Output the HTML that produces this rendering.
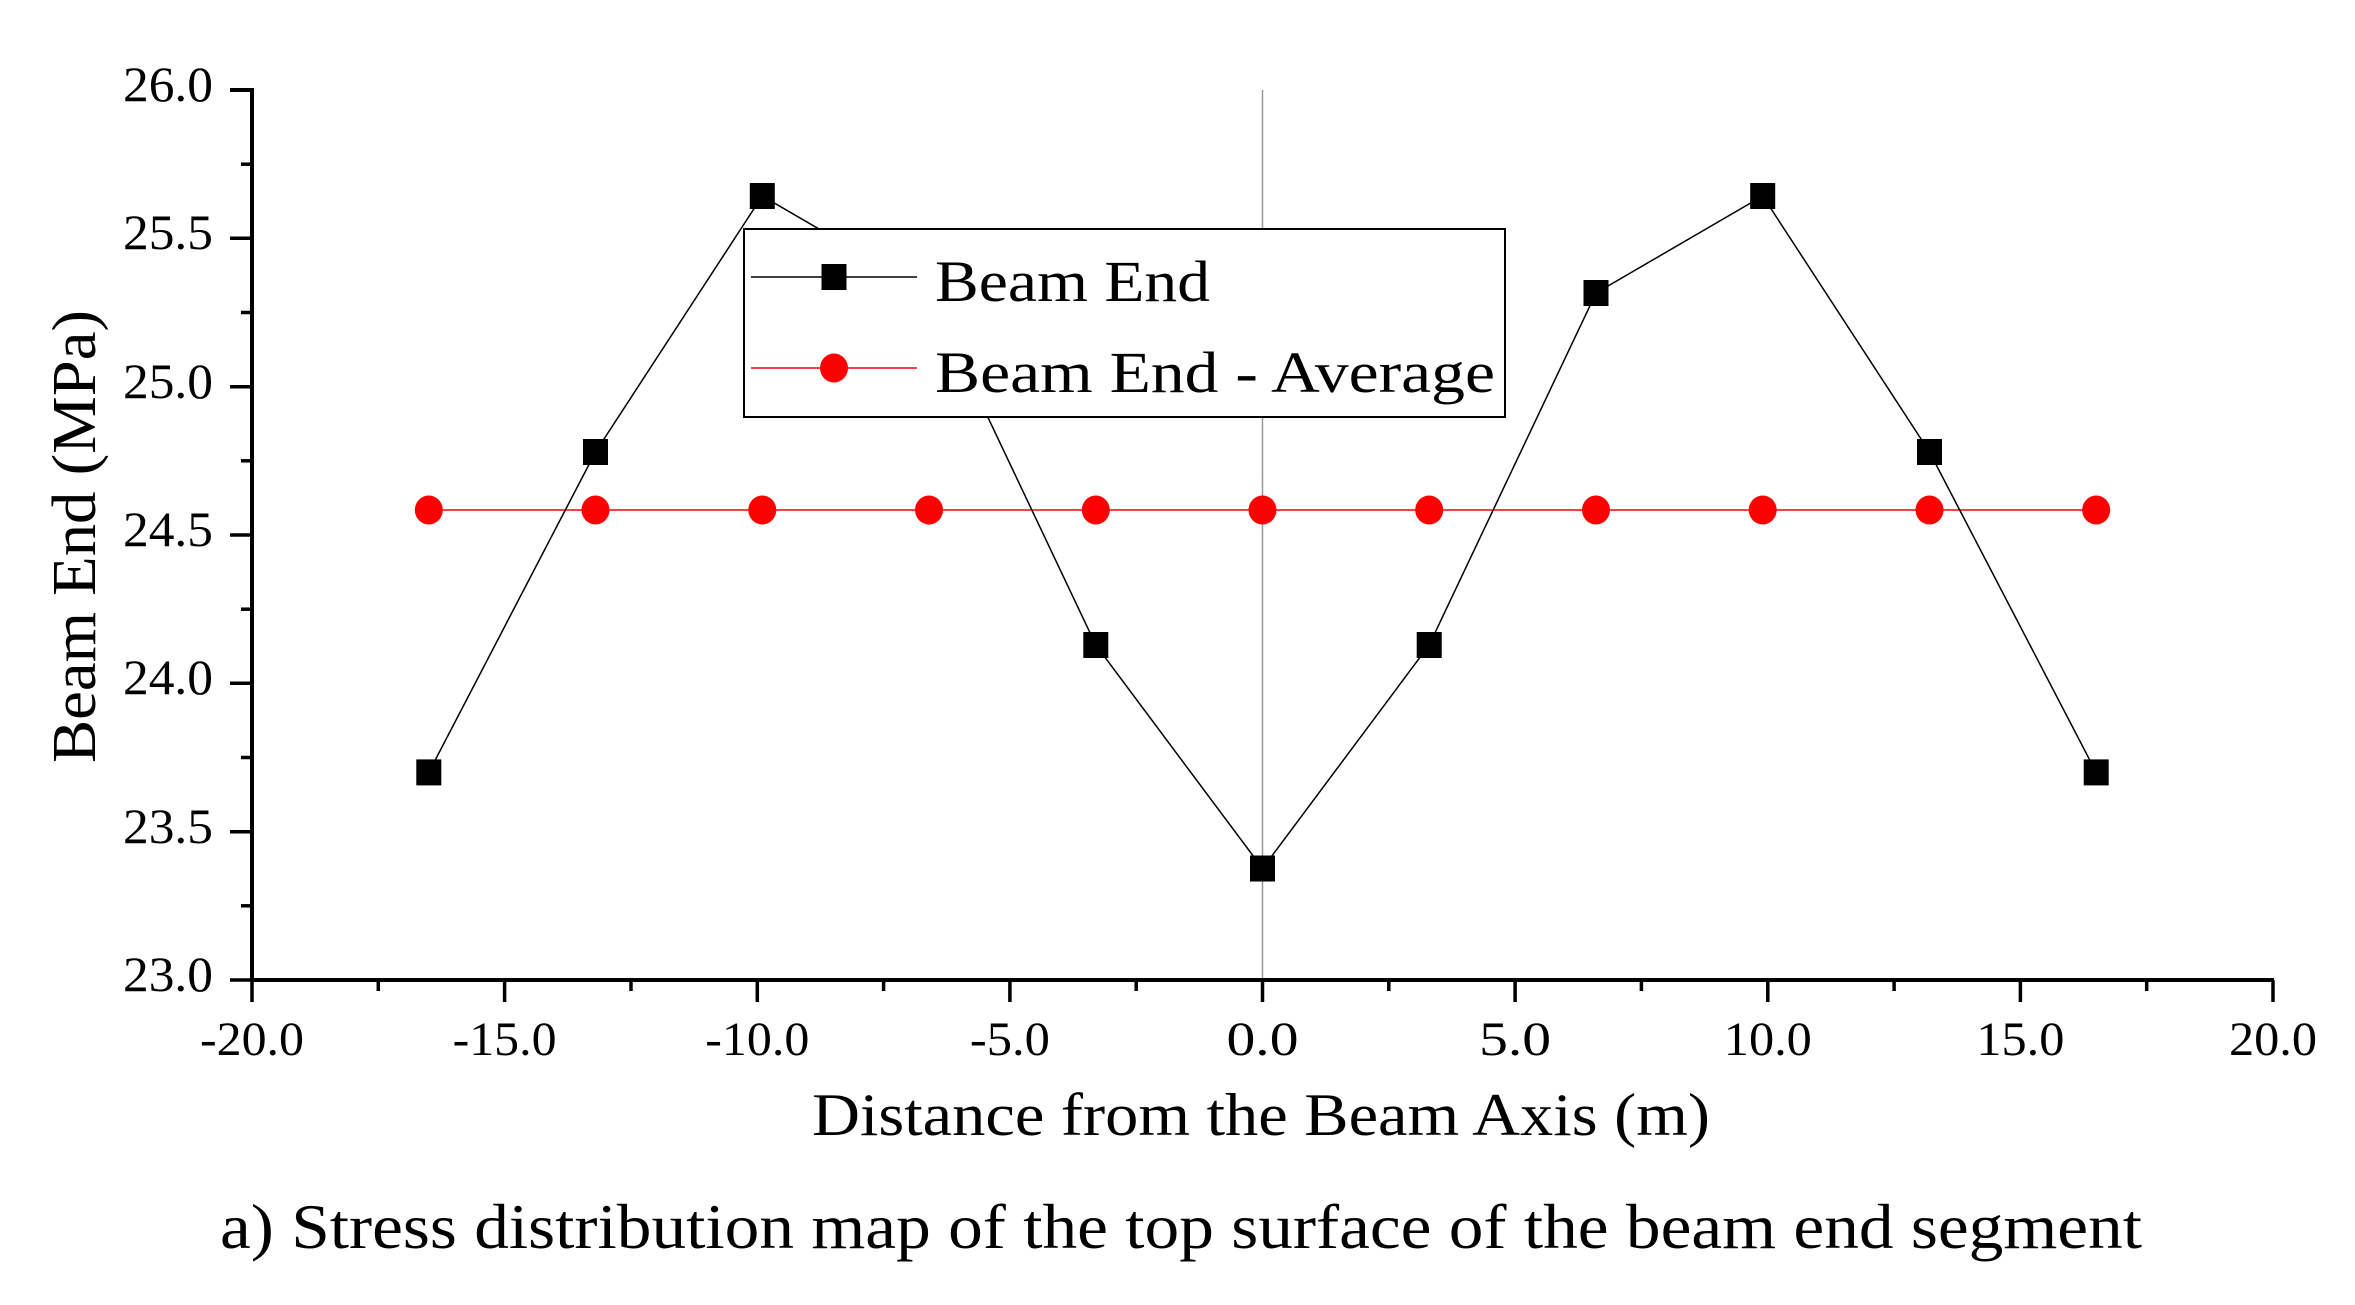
<!DOCTYPE html>
<html><head><meta charset="utf-8"><style>html,body{margin:0;padding:0;background:#fff}svg{display:block}</style></head>
<body>
<svg width="2355" height="1305" viewBox="0 0 2355 1305" xmlns="http://www.w3.org/2000/svg" font-family="'Liberation Serif', serif">
<rect width="2355" height="1305" fill="#fff"/>
<!-- zero line -->
<line x1="1262.5" y1="90" x2="1262.5" y2="980" stroke="#999" stroke-width="1.5"/>
<!-- axes -->
<path d="M252,88 V980 H2274" fill="none" stroke="#000" stroke-width="4"/>
<line x1="230" y1="90" x2="252" y2="90" stroke="#000" stroke-width="4"/>
<!-- y ticks -->
<g stroke="#000" stroke-width="3.5">
<line x1="230" y1="238.3" x2="252" y2="238.3"/>
<line x1="230" y1="386.7" x2="252" y2="386.7"/>
<line x1="230" y1="535" x2="252" y2="535"/>
<line x1="230" y1="683.3" x2="252" y2="683.3"/>
<line x1="230" y1="831.7" x2="252" y2="831.7"/>
<line x1="230" y1="980" x2="252" y2="980"/>
<line x1="241" y1="164.2" x2="252" y2="164.2"/>
<line x1="241" y1="312.5" x2="252" y2="312.5"/>
<line x1="241" y1="460.8" x2="252" y2="460.8"/>
<line x1="241" y1="609.2" x2="252" y2="609.2"/>
<line x1="241" y1="757.5" x2="252" y2="757.5"/>
<line x1="241" y1="905.8" x2="252" y2="905.8"/>
</g>
<!-- x ticks -->
<g stroke="#000" stroke-width="3.5">
<line x1="252" y1="980" x2="252" y2="1002"/>
<line x1="504.6" y1="980" x2="504.6" y2="1002"/>
<line x1="757.3" y1="980" x2="757.3" y2="1002"/>
<line x1="1009.9" y1="980" x2="1009.9" y2="1002"/>
<line x1="1262.5" y1="980" x2="1262.5" y2="1002"/>
<line x1="1515.1" y1="980" x2="1515.1" y2="1002"/>
<line x1="1767.8" y1="980" x2="1767.8" y2="1002"/>
<line x1="2020.4" y1="980" x2="2020.4" y2="1002"/>
<line x1="2273" y1="980" x2="2273" y2="1002"/>
<line x1="378.3" y1="980" x2="378.3" y2="991"/>
<line x1="631" y1="980" x2="631" y2="991"/>
<line x1="883.6" y1="980" x2="883.6" y2="991"/>
<line x1="1136.2" y1="980" x2="1136.2" y2="991"/>
<line x1="1388.8" y1="980" x2="1388.8" y2="991"/>
<line x1="1641.4" y1="980" x2="1641.4" y2="991"/>
<line x1="1894.1" y1="980" x2="1894.1" y2="991"/>
<line x1="2146.7" y1="980" x2="2146.7" y2="991"/>
</g>
<!-- y labels -->
<g font-size="50" text-anchor="end" fill="#000">
<text x="213" y="101" textLength="90" lengthAdjust="spacingAndGlyphs">26.0</text>
<text x="213" y="249" textLength="90" lengthAdjust="spacingAndGlyphs">25.5</text>
<text x="213" y="398" textLength="90" lengthAdjust="spacingAndGlyphs">25.0</text>
<text x="213" y="546" textLength="90" lengthAdjust="spacingAndGlyphs">24.5</text>
<text x="213" y="694" textLength="90" lengthAdjust="spacingAndGlyphs">24.0</text>
<text x="213" y="843" textLength="90" lengthAdjust="spacingAndGlyphs">23.5</text>
<text x="213" y="991" textLength="90" lengthAdjust="spacingAndGlyphs">23.0</text>
</g>
<!-- x labels -->
<g font-size="48" text-anchor="middle" fill="#000">
<text x="252" y="1055" textLength="104" lengthAdjust="spacingAndGlyphs">-20.0</text>
<text x="504.6" y="1055" textLength="104" lengthAdjust="spacingAndGlyphs">-15.0</text>
<text x="757.3" y="1055" textLength="104" lengthAdjust="spacingAndGlyphs">-10.0</text>
<text x="1009.9" y="1055" textLength="80" lengthAdjust="spacingAndGlyphs">-5.0</text>
<text x="1262.5" y="1055" textLength="72" lengthAdjust="spacingAndGlyphs">0.0</text>
<text x="1515.1" y="1055" textLength="72" lengthAdjust="spacingAndGlyphs">5.0</text>
<text x="1767.8" y="1055" textLength="88" lengthAdjust="spacingAndGlyphs">10.0</text>
<text x="2020.4" y="1055" textLength="88" lengthAdjust="spacingAndGlyphs">15.0</text>
<text x="2273" y="1055" textLength="88" lengthAdjust="spacingAndGlyphs">20.0</text>
</g>
<!-- titles -->
<text x="812" y="1135" font-size="60" textLength="898" lengthAdjust="spacingAndGlyphs">Distance from the Beam Axis (m)</text>
<text transform="translate(95,763) rotate(-90)" font-size="62" textLength="453" lengthAdjust="spacingAndGlyphs">Beam End (MPa)</text>
<text x="220" y="1248" font-size="64" textLength="1922" lengthAdjust="spacingAndGlyphs">a) Stress distribution map of the top surface of the beam end segment</text>
<!-- red series -->
<line x1="428.8" y1="510" x2="2096.2" y2="510" stroke="#f00" stroke-width="1.5"/>
<g fill="#f00">
<ellipse cx="428.8" cy="510" rx="14" ry="14.5"/>
<ellipse cx="595.5" cy="510" rx="14" ry="14.5"/>
<ellipse cx="762.3" cy="510" rx="14" ry="14.5"/>
<ellipse cx="929" cy="510" rx="14" ry="14.5"/>
<ellipse cx="1095.8" cy="510" rx="14" ry="14.5"/>
<ellipse cx="1262.5" cy="510" rx="14" ry="14.5"/>
<ellipse cx="1429.2" cy="510" rx="14" ry="14.5"/>
<ellipse cx="1596" cy="510" rx="14" ry="14.5"/>
<ellipse cx="1762.7" cy="510" rx="14" ry="14.5"/>
<ellipse cx="1929.5" cy="510" rx="14" ry="14.5"/>
<ellipse cx="2096.2" cy="510" rx="14" ry="14.5"/>
</g>
<!-- black series -->
<polyline fill="none" stroke="#000" stroke-width="1.5" points="428.8,772.4 595.5,452 762.3,196 929,293 1095.8,645 1262.5,868.5 1429.2,645 1596,293 1762.7,196 1929.5,452 2096.2,772.4"/>
<g fill="#000">
<rect x="416.3" y="759.4" width="25" height="26"/>
<rect x="583" y="439" width="25" height="26"/>
<rect x="749.8" y="183" width="25" height="26"/>
<rect x="916.5" y="280" width="25" height="26"/>
<rect x="1083.3" y="632" width="25" height="26"/>
<rect x="1250" y="855.5" width="25" height="26"/>
<rect x="1416.7" y="632" width="25" height="26"/>
<rect x="1583.5" y="280" width="25" height="26"/>
<rect x="1750.2" y="183" width="25" height="26"/>
<rect x="1917" y="439" width="25" height="26"/>
<rect x="2083.7" y="759.4" width="25" height="26"/>
</g>
<!-- legend -->
<rect x="744" y="229" width="761" height="188" fill="#fff" stroke="#000" stroke-width="2"/>
<line x1="751" y1="277" x2="917" y2="277" stroke="#000" stroke-width="1.5"/>
<rect x="821.5" y="264" width="25" height="26" fill="#000"/>
<line x1="751" y1="368" x2="917" y2="368" stroke="#f00" stroke-width="1.5"/>
<ellipse cx="834" cy="368" rx="14" ry="14.5" fill="#f00"/>
<text x="935" y="301" font-size="58" textLength="275" lengthAdjust="spacingAndGlyphs">Beam End</text>
<text x="935" y="392" font-size="58" textLength="560" lengthAdjust="spacingAndGlyphs">Beam End - Average</text>
</svg>
</body></html>
